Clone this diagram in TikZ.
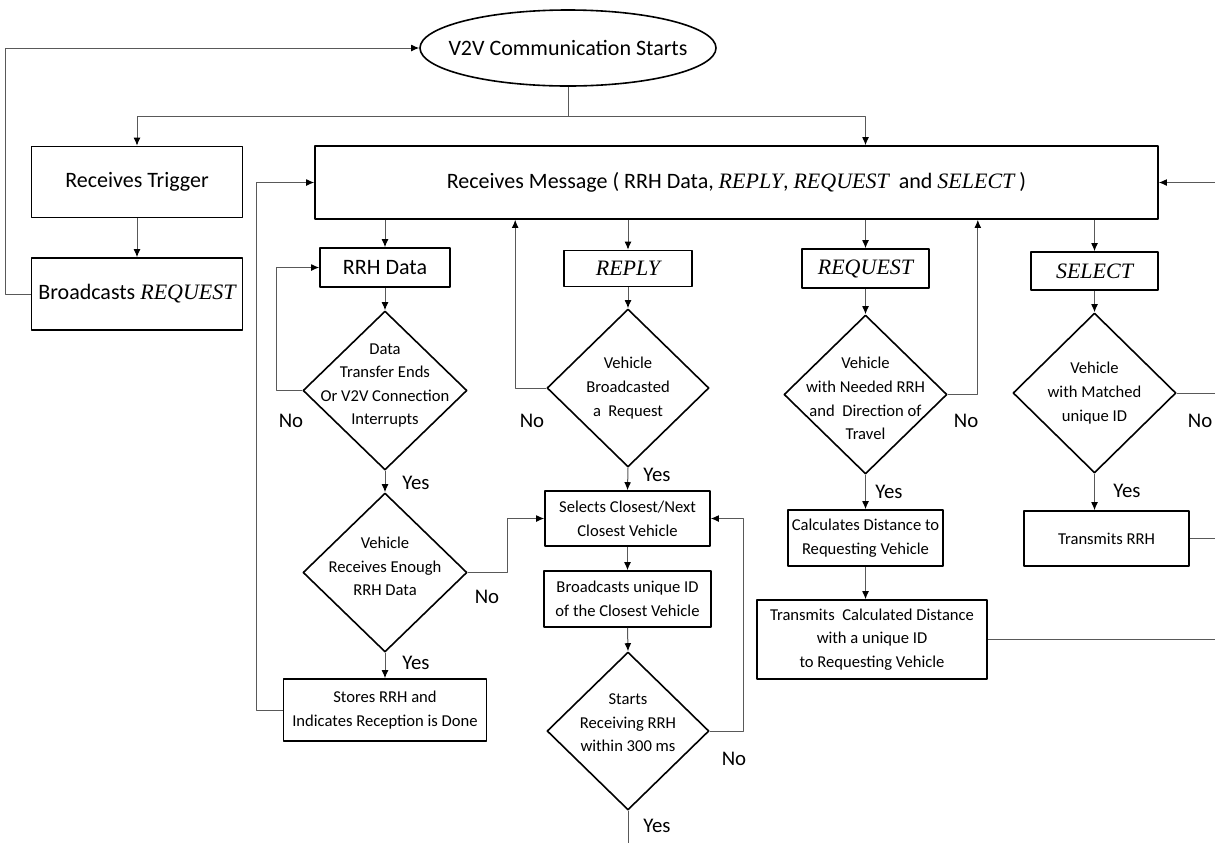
\documentclass[tikz,border=0pt]{standalone}
\usepackage{fontspec}
\setmainfont{Carlito}
\newfontfamily\timesfont{Liberation Serif}
\usetikzlibrary{arrows.meta,shapes.geometric}
\newcommand{\msgname}[1]{{\timesfont\itshape #1}}

\tikzset{
  bigtext/.style={font=\fontsize{11}{13}\selectfont},
  smalltext/.style={font=\fontsize{8.3}{11.8}\selectfont},
  box/.style={draw, line width=0.8pt, inner sep=0pt, align=center},
  decision/.style={diamond, draw, line width=0.8pt, inner sep=0pt},
  dtext/.style={smalltext, align=center, inner sep=0pt},
  yn/.style={font=\fontsize{10.4}{12}\selectfont, inner sep=0pt},
  flow/.style={draw=black!65, line width=0.5pt},
}

\begin{document}
\begin{tikzpicture}[x=0.5pt, y=-0.5pt, >={Latex[length=4pt,width=3.4pt,color=black]}, line join=round]
  \useasboundingbox (0,0) rectangle (1215,842);

  % Start and left column
  \node[ellipse, draw, line width=0.8pt, inner sep=0pt, minimum width=148pt, minimum height=38pt,
        label={[bigtext]center:V2V Communication Starts}] (start) at (568,48) {};
  \node[box, bigtext, minimum width=105.5pt, minimum height=35.5pt] (trig) at (137,182) {Receives Trigger};
  \node[box, bigtext, minimum width=105.5pt, minimum height=36pt] (bcast) at (137,294) {Broadcasts \msgname{REQUEST}};
  \node[box, bigtext, minimum width=421.5pt, minimum height=36.5pt] (rm) at (736.5,182.5)
    {Receives Message ( RRH Data, \msgname{REPLY}, \msgname{REQUEST}\ \ and \msgname{SELECT} )};

  % Message headers
  \node[box, bigtext, minimum width=65pt, minimum height=19.5pt] (rrh) at (385,267.5) {RRH Data};
  \node[box, bigtext, minimum width=64pt, minimum height=18pt] (replyhdr) at (628,268.5) {\msgname{REPLY}};
  \node[box, bigtext, minimum width=63.5pt, minimum height=19.5pt] (reqhdr) at (865.5,268.5) {\msgname{REQUEST}};
  \node[box, bigtext, minimum width=63.5pt, minimum height=19pt] (selhdr) at (1094.5,271) {\msgname{SELECT}};

  % RRH Data branch
  \node[decision, minimum width=82pt, minimum height=79.5pt,
        label={[dtext, yshift=2.5pt]center:Data\\Transfer Ends\\Or V2V Connection\\Interrupts}] (dtransfer) at (385,390.5) {};
  \node[decision, minimum width=82pt, minimum height=79.5pt,
        label={[dtext, yshift=3pt]center:Vehicle\\Receives Enough\\RRH Data}] (denough) at (385,572.5) {};
  \node[box, smalltext, minimum width=101.5pt, minimum height=31pt] (stores) at (385,710) {Stores RRH and\\Indicates Reception is Done};

  % REPLY branch
  \node[decision, minimum width=81pt, minimum height=79pt,
        label={[dtext]center:Vehicle\\Broadcasted\\a\ \ Request}] (dreply) at (628,388) {};
  \node[box, smalltext, minimum width=82.5pt, minimum height=27.5pt] (sel) at (627.5,518.5) {Selects Closest/Next\\Closest Vehicle};
  \node[box, smalltext, minimum width=83.5pt, minimum height=28pt] (bcid) at (627.5,599) {Broadcasts unique ID\\of the Closest Vehicle};
  \node[decision, minimum width=81pt, minimum height=79pt,
        label={[dtext, yshift=4pt]center:Starts\\Receiving RRH\\within 300 ms}] (dstart) at (628,731) {};

  % REQUEST branch
  \node[decision, minimum width=81.5pt, minimum height=79.5pt,
        label={[dtext, yshift=-2pt]center:Vehicle\\with Needed RRH\\and\ \ Direction of\\Travel}] (dreq) at (865.5,394.5) {};
  \node[box, smalltext, minimum width=77.5pt, minimum height=28pt] (calc) at (865.5,538) {Calculates Distance to\\Requesting Vehicle};
  \node[box, smalltext, minimum width=115pt, minimum height=39.5pt] (tcd) at (872,639.5) {Transmits\ \ Calculated Distance\\with a unique ID\\to Requesting Vehicle};

  % SELECT branch
  \node[decision, minimum width=81.5pt, minimum height=80pt,
        label={[dtext]center:Vehicle\\with Matched\\unique ID}] (dsel) at (1094.5,393) {};
  \node[box, smalltext, minimum width=82.5pt, minimum height=27.5pt] (trrh) at (1106.5,538.5) {Transmits RRH};

  % Yes / No
  \node[yn] (no1) at (291,421) {No};
  \node[yn] (yes1) at (416,483) {Yes};
  \node[yn] (no2) at (487,597) {No};
  \node[yn] (yes2) at (416,663) {Yes};
  \node[yn] (no3) at (532,421) {No};
  \node[yn] (yes3) at (657,475) {Yes};
  \node[yn] (no4) at (734,759) {No};
  \node[yn] (yes4) at (657,826) {Yes};
  \node[yn] (no5) at (966,421) {No};
  \node[yn] (yes5) at (889,492) {Yes};
  \node[yn] (no6) at (1200,421) {No};
  \node[yn] (yes6) at (1127,491) {Yes};

  % Connectors
  \coordinate (split) at (568,116);
  \draw[flow] (start.south) -- (split);
  \draw[flow,->] (split) -| (trig.north);
  \draw[flow,->] (split) -| (rm.north -| reqhdr.north);
  \draw[flow,->] (trig.south) -- (bcast.north);
  \draw[flow,->] (bcast.west) -- ++(-25,0) |- (start.west);

  \draw[flow,->] (rm.south -| rrh.north) -- (rrh.north);
  \draw[flow,->] (rm.south -| replyhdr.north) -- (replyhdr.north);
  \draw[flow,->] (rm.south -| reqhdr.north) -- (reqhdr.north);
  \draw[flow,->] (rm.south -| selhdr.north) -- (selhdr.north);

  \draw[flow,->] (rrh.south) -- (dtransfer.north);
  \draw[flow,->] (dtransfer.west) -- ++(-26,0) |- (rrh.west);
  \draw[flow,->] (dtransfer.south) -- (denough.north);
  \draw[flow,->] (denough.east) -- ++(40,0) |- (sel.west);
  \draw[flow,->] (denough.south) -- (stores.north);
  \draw[flow,->] (stores.west) -- ++(-26,0) |- (rm.west);

  \draw[flow,->] (replyhdr.south) -- (dreply.north);
  \draw[flow,->] (dreply.west) -- ++(-31,0) coordinate (replyup) -- (replyup |- rm.south);
  \draw[flow,->] (dreply.south) -- (sel.north);
  \draw[flow,->] (sel.south) -- (bcid.north);
  \draw[flow,->] (bcid.south) -- (dstart.north);
  \draw[flow,->] (dstart.east) -- ++(34,0) |- (sel.east);
  \draw[flow] (dstart.south) -- ++(0,40);

  \draw[flow,->] (reqhdr.south) -- (dreq.north);
  \draw[flow,->] (dreq.east) -- ++(30,0) coordinate (requp) -- (requp |- rm.south);
  \draw[flow,->] (dreq.south) -- (calc.north);
  \draw[flow,->] (calc.south) -- (calc.south |- tcd.north);
  \draw[flow,->] (tcd.east) -- ++(230,0) |- (rm.east);

  \draw[flow,->] (selhdr.south) -- (dsel.north);
  \draw[flow] (dsel.east) -- ++(40,0);
  \draw[flow,->] (dsel.south) -- (dsel.south |- trrh.north);
  \draw[flow] (trrh.east) -- ++(28,0);
\end{tikzpicture}
\end{document}
